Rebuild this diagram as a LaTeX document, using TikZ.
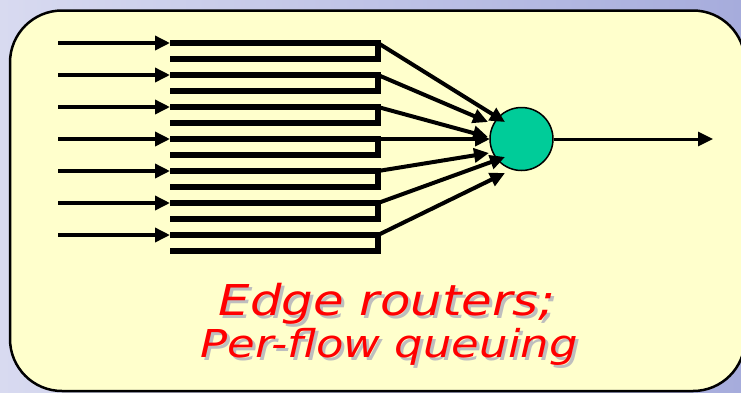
\documentclass[tikz,border=0pt]{standalone}
\usepackage{fontspec}
\usepackage{graphicx}
\usetikzlibrary{arrows.meta}
\newfontfamily\capfont{DejaVu Sans}
\definecolor{boxfill}{RGB}{255,255,204}
\definecolor{routerfill}{RGB}{0,204,153}
\definecolor{bgleft}{RGB}{216,218,240}
\definecolor{bgright}{RGB}{166,172,220}
\definecolor{shadowgray}{RGB}{190,190,190}
\definecolor{capred}{RGB}{255,0,0}
\begin{document}
\begin{tikzpicture}[x=1pt,y=-1pt,
  tipshape/.style={-{Triangle[length=15pt,width=14pt]}},
  inarrow/.style={tipshape,line width=3.5pt},
  queuebar/.style={line width=5.5pt,line join=miter},
  feed/.style={tipshape,line width=4pt},
  outarrow/.style={tipshape,line width=3pt},
  router/.style={circle,draw=black,line width=1.5pt,fill=routerfill,minimum size=63pt,inner sep=0pt},
  panel/.style={draw=black,line width=2.5pt,fill=boxfill,rounded corners=52pt},
  captext/.style={anchor=base,inner sep=0pt,font=\capfont\itshape}]
\useasboundingbox (0,0) rectangle (741,392);
\shade[left color=bgleft,right color=bgright] (0,0) rectangle (741,392);
\draw[panel] (10,10.5) rectangle (745,391);
% router
\node[router] (c) at (521.5,139) {};
% queues, inputs and feeds
\foreach \i in {1,...,7}{
  \pgfmathsetmacro{\yy}{43+32*(\i-1)}
  \coordinate (in\i) at (58,\yy);
  \coordinate (qs\i) at (170,\yy);
  \coordinate (qe\i) at (378,\yy);
  \draw[queuebar] (qs\i) -- (qe\i) -- (378,\yy+16) -- (170,\yy+16);
  \draw[inarrow] (in\i) -- (qs\i);
}
\coordinate (t1) at (505,122);
\coordinate (t2) at (488,122);
\coordinate (t3) at (488,137);
\coordinate (t4) at (490,139);
\coordinate (t5) at (489,153);
\coordinate (t6) at (505,157);
\coordinate (t7) at (505,173);
\foreach \i in {1,...,7}{
  \draw[feed] (qe\i) -- (t\i);
}
\coordinate (out) at (713,139);
\draw[outarrow] (c.east) -- (out);
% caption with shadow
\node[captext,text=shadowgray] (s1) at (390,318) {\fontsize{42.5}{50}\selectfont\scalebox{1.17}[1]{Edge routers;}};
\node[captext,text=capred] (l1) at (387,315) {\fontsize{42.5}{50}\selectfont\scalebox{1.17}[1]{Edge routers;}};
\node[captext,text=shadowgray] (s2) at (392,360) {\fontsize{38.4}{46}\selectfont\scalebox{1.17}[1]{Per-flow queuing}};
\node[captext,text=capred] (l2) at (389,357) {\fontsize{38.4}{46}\selectfont\scalebox{1.17}[1]{Per-flow queuing}};
\end{tikzpicture}
\end{document}
